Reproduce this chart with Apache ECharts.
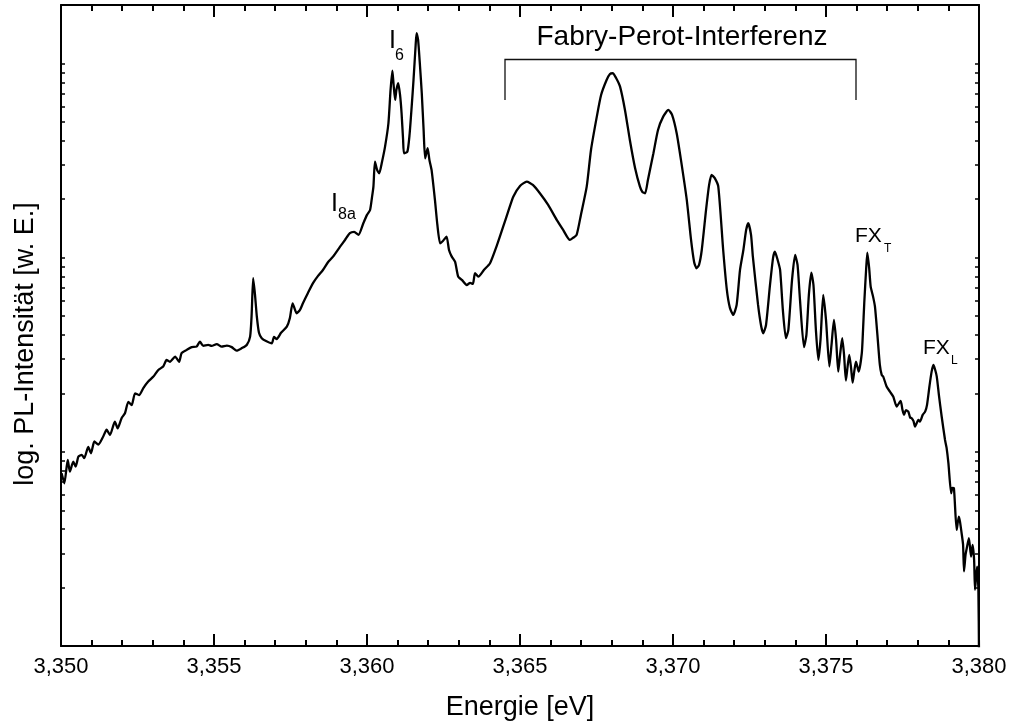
<!DOCTYPE html>
<html><head><meta charset="utf-8">
<script src="https://cdn.jsdelivr.net/npm/echarts@6/dist/echarts.min.js"></script>
<style>html,body{margin:0;padding:0;background:#fff}#chart{width:1011px;height:726px}</style>
</head><body><div id="chart"></div>
<script>
// Photon energy [eV]
const energies = [
3.35002,3.35011,3.35022,3.35029,3.35040,3.35048,3.35057,3.35068,3.35076,3.35089,
3.35098,3.35109,3.35122,3.35138,3.35149,3.35160,3.35176,3.35185,3.35198,3.35209,
3.35220,3.35231,3.35242,3.35255,3.35269,3.35285,3.35302,3.35318,3.35334,3.35345,
3.35356,3.35373,3.35386,3.35394,3.35411,3.35427,3.35443,3.35454,3.35465,3.35481,
3.35492,3.35509,3.35525,3.35542,3.35558,3.35574,3.35591,3.35607,3.35618,3.35623,
3.35628,3.35634,3.35640,3.35647,3.35656,3.35670,3.35689,3.35696,3.35705,3.35719,
3.35738,3.35748,3.35757,3.35770,3.35781,3.35791,3.35807,3.35824,3.35840,3.35856,
3.35873,3.35889,3.35912,3.35928,3.35944,3.35958,3.35972,3.35988,3.36000,3.36010,
3.36016,3.36021,3.36026,3.36033,3.36040,3.36049,3.36059,3.36070,3.36077,3.36083,
3.36087,3.36092,3.36096,3.36102,3.36108,3.36113,3.36118,3.36121,3.36132,3.36139,
3.36146,3.36152,3.36159,3.36162,3.36167,3.36173,3.36179,3.36185,3.36190,3.36198,
3.36204,3.36211,3.36222,3.36230,3.36239,3.36248,3.36260,3.36268,3.36277,3.36288,
3.36298,3.36310,3.36326,3.36337,3.36346,3.36353,3.36364,3.36382,3.36402,3.36425,
3.36445,3.36461,3.36478,3.36500,3.36522,3.36542,3.36565,3.36592,3.36620,3.36641,
3.36663,3.36673,3.36685,3.36699,3.36718,3.36732,3.36751,3.36765,3.36783,3.36794,
3.36803,3.36814,3.36827,3.36843,3.36859,3.36876,3.36892,3.36900,3.36909,3.36918,
3.36936,3.36951,3.36968,3.36985,3.36997,3.37012,3.37026,3.37045,3.37059,3.37069,
3.37077,3.37085,3.37094,3.37108,3.37118,3.37126,3.37136,3.37148,3.37164,3.37176,
3.37186,3.37197,3.37208,3.37219,3.37230,3.37239,3.37246,3.37255,3.37261,3.37278,
3.37288,3.37295,3.37304,3.37317,3.37327,3.37333,3.37342,3.37350,3.37359,3.37369,
3.37377,3.37389,3.37399,3.37407,3.37415,3.37428,3.37436,3.37444,3.37452,3.37459,
3.37467,3.37475,3.37482,3.37491,3.37500,3.37511,3.37518,3.37526,3.37533,3.37540,
3.37546,3.37553,3.37559,3.37565,3.37570,3.37576,3.37582,3.37587,3.37593,3.37598,
3.37607,3.37617,3.37621,3.37625,3.37631,3.37635,3.37641,3.37646,3.37654,3.37660,
3.37668,3.37676,3.37682,3.37687,3.37698,3.37709,3.37720,3.37731,3.37744,3.37750,
3.37755,3.37761,3.37769,3.37775,3.37780,3.37786,3.37791,3.37802,3.37807,3.37816,
3.37824,3.37830,3.37838,3.37845,3.37851,3.37856,3.37862,3.37869,3.37878,3.37889,
3.37894,3.37900,3.37909,3.37913,3.37918,3.37927,3.37934,3.37938,3.37944,3.37948,
3.37951,3.37956,3.37960,3.37967,3.37974,3.37979,3.37984,3.37987,3.37991,3.37994,
3.37998,3.38000
];
// PL intensity [arb. units]
const intensities = [
0.0776,0.0689,0.0909,0.0791,0.0890,0.0839,0.0945,0.0964,0.0927,0.106,
0.0983,0.113,0.109,0.120,0.130,0.122,0.143,0.132,0.149,0.158,
0.181,0.174,0.200,0.196,0.213,0.230,0.244,0.264,0.275,0.297,
0.291,0.309,0.291,0.322,0.335,0.346,0.348,0.369,0.351,0.355,
0.351,0.359,0.348,0.352,0.346,0.332,0.342,0.355,0.392,0.507,
0.783,0.643,0.497,0.410,0.385,0.372,0.362,0.391,0.381,0.410,
0.441,0.489,0.582,0.517,0.538,0.584,0.658,0.741,0.805,0.864,
0.950,1.012,1.139,1.233,1.336,1.356,1.309,1.504,1.660,1.760,
2.029,2.321,3.122,2.829,2.720,3.111,3.729,4.921,7.303,9.182,
7.750,6.489,7.303,7.907,6.883,5.541,4.037,3.448,3.514,4.283,
5.991,8.222,12.45,14.31,13.21,9.824,7.024,4.546,3.249,3.659,
3.185,2.829,1.982,1.474,1.186,1.219,1.283,1.095,1.012,0.950,
0.798,0.768,0.723,0.741,0.732,0.831,0.798,0.864,0.936,1.163,
1.444,1.719,2.061,2.340,2.463,2.368,2.146,1.868,1.564,1.389,
1.233,1.263,1.309,1.660,2.321,3.585,5.322,6.883,8.222,8.829,
8.903,8.420,7.595,5.762,4.037,2.896,2.321,2.179,2.146,2.513,
3.448,4.546,5.322,5.762,5.430,4.371,3.185,1.982,1.233,0.950,
0.882,0.917,1.095,1.760,2.368,2.666,2.573,2.321,1.095,0.682,
0.551,0.507,0.571,0.864,1.095,1.389,1.504,1.309,1.012,0.571,
0.445,0.408,0.450,0.723,0.997,1.074,0.973,0.864,0.538,0.385,
0.424,0.768,1.033,0.917,0.606,0.346,0.400,0.643,0.837,0.723,
0.424,0.297,0.377,0.643,0.478,0.275,0.355,0.478,0.377,0.259,
0.316,0.385,0.316,0.233,0.270,0.316,0.270,0.227,0.264,0.291,
0.259,0.322,0.424,0.582,0.864,1.061,0.885,0.709,0.628,0.559,
0.400,0.280,0.249,0.244,0.217,0.204,0.192,0.171,0.183,0.164,
0.155,0.164,0.161,0.150,0.149,0.144,0.135,0.146,0.143,0.155,
0.161,0.174,0.217,0.258,0.280,0.267,0.244,0.196,0.152,0.115,
0.105,0.0874,0.0612,0.0652,0.0650,0.0396,0.0464,0.0436,0.0373,0.0332,
0.0242,0.0295,0.0319,0.0359,0.0289,0.0332,0.0278,0.0195,0.0232,0.0256,
0.0195,0.0090
];
// log-axis tick positions (unlabelled)
const yTickValues = [0.02,0.03,0.04,0.05,0.06,0.07,0.08,0.09,0.1,0.2,0.3,0.4,0.5,0.6,0.7,0.8,0.9,1,2,3,4,5,6,7,8,9,10,20];
const xTitle = 'Energie [eV]';
const yTitle = 'log. PL-Intensität [w. E.]';
const bracketLabel = 'Fabry-Perot-Interferenz';

const FONT = '"Liberation Sans", Arial, Helvetica, sans-serif';
const chart = echarts.init(document.getElementById('chart'), null, {renderer: 'canvas'});

function xAxisCfg(pos, withLabels) {
  return {
    type: 'value', position: pos, min: 3.35, max: 3.38, interval: 0.005,
    name: withLabels ? xTitle : '', nameLocation: 'middle', nameGap: 48,
    nameTextStyle: {fontSize: 27, color: '#000', fontFamily: FONT},
    axisLine: {show: true, onZero: false, lineStyle: {color: '#000', width: 2}},
    axisTick: {show: true, inside: true, length: 12, lineStyle: {color: '#000', width: 2}},
    minorTick: {show: true, splitNumber: 5, length: 6, lineStyle: {color: '#000', width: 2}},
    axisLabel: {show: withLabels, fontSize: 22, color: '#000', fontFamily: FONT, margin: 10,
      formatter: v => v.toFixed(3).replace('.', ',')},
    splitLine: {show: false}, minorSplitLine: {show: false}
  };
}
function yAxisCfg(pos, withName) {
  return {
    type: 'log', logBase: 10, position: pos, min: 0.01, max: 20,
    name: withName ? yTitle : '', nameLocation: 'middle', nameGap: 22,
    nameTextStyle: {fontSize: 27, color: '#000', fontFamily: FONT, padding: [0, 37, 0, 0]},
    axisLine: {show: true, onZero: false, lineStyle: {color: '#000', width: 2}},
    axisTick: {show: true, inside: true, length: 4, customValues: yTickValues, lineStyle: {color: '#000', width: 1.5}},
    minorTick: {show: false},
    axisLabel: {show: false},
    splitLine: {show: false}
  };
}

const option = {
  animation: false,
  backgroundColor: '#fff',
  textStyle: {fontFamily: FONT},
  grid: {left: 61, right: 32, top: 5, bottom: 80, containLabel: false, outerBoundsMode: 'none'},
  xAxis: [xAxisCfg('bottom', true), xAxisCfg('top', false)],
  yAxis: [yAxisCfg('left', true), yAxisCfg('right', false)],
  series: [{
    type: 'line',
    xAxisIndex: 0, yAxisIndex: 0,
    data: energies.map((e, i) => [e, intensities[i]]),
    showSymbol: false, symbol: 'none',
    smooth: 0.2,
    clip: true,
    lineStyle: {color: '#000', width: 2.3},
    z: 3
  }],
  graphic: [
    {type: 'polyline', silent: true, shape: {points: [[505, 100], [505, 59.5], [856, 59.5], [856, 100]]},
     style: {stroke: '#111', lineWidth: 1.3, fill: null}},
    {type: 'text', style: {text: bracketLabel, x: 682, y: 37, align: 'center', verticalAlign: 'middle', font: '28px ' + FONT, fill: '#000'}},
    {type: 'text', style: {text: 'I', x: 389, y: 41, align: 'left', verticalAlign: 'middle', font: '25px ' + FONT, fill: '#000'}},
    {type: 'text', style: {text: '6', x: 395, y: 56, align: 'left', verticalAlign: 'middle', font: '16px ' + FONT, fill: '#000'}},
    {type: 'text', style: {text: 'I', x: 331, y: 204, align: 'left', verticalAlign: 'middle', font: '25px ' + FONT, fill: '#000'}},
    {type: 'text', style: {text: '8a', x: 338, y: 215, align: 'left', verticalAlign: 'middle', font: '16px ' + FONT, fill: '#000'}},
    {type: 'text', style: {text: 'FX', x: 855, y: 236, align: 'left', verticalAlign: 'middle', font: '21px ' + FONT, fill: '#000'}},
    {type: 'text', style: {text: 'T', x: 884, y: 249, align: 'left', verticalAlign: 'middle', font: '12px ' + FONT, fill: '#000'}},
    {type: 'text', style: {text: 'FX', x: 923, y: 348, align: 'left', verticalAlign: 'middle', font: '21px ' + FONT, fill: '#000'}},
    {type: 'text', style: {text: 'L', x: 951, y: 361, align: 'left', verticalAlign: 'middle', font: '12px ' + FONT, fill: '#000'}}
  ]
};
chart.setOption(option);
</script>
</body></html>
